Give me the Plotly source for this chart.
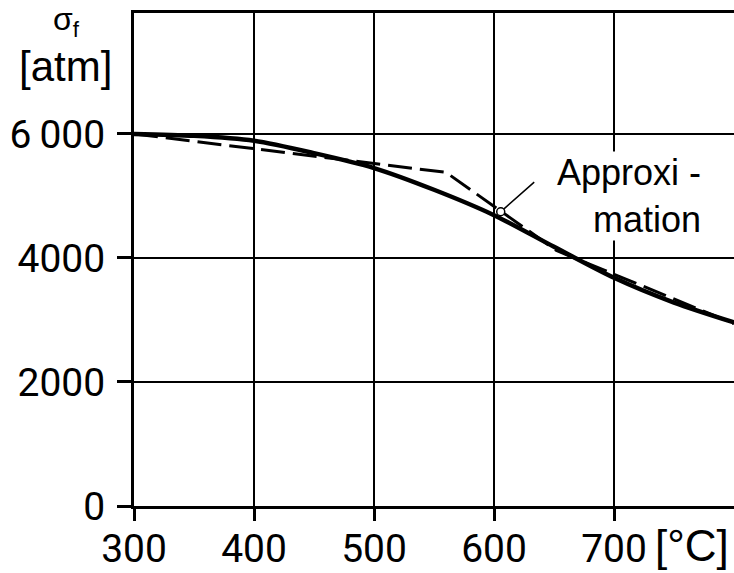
import plotly.graph_objects as go

# Temperature [°C] and fracture stress sigma_f [atm]
temp_exact = [300, 350, 400, 450, 500, 550, 600, 650, 700, 750, 800]
sigma_exact = [6000, 5970, 5890, 5690, 5450, 5100, 4690, 4180, 3680, 3280, 2960]

temp_approx = [300, 560, 652, 800]
sigma_approx = [6000, 5380, 4120, 2940]

marker_temp = [605.6]
marker_sigma = [4745]

x_ticks = [300, 400, 500, 600, 700]
x_ticktext = ["300", "400", "500", "600", "700"]
y_ticks = [0, 2000, 4000, 6000]
y_ticktext = ["0", "2000", "4000", "6\u2009000"]

TICKF = "Roboto, Liberation Sans, sans-serif"
REG = "Liberation Sans, Arial, sans-serif"

fig = go.Figure()
fig.add_trace(go.Scatter(x=temp_approx, y=sigma_approx, mode="lines",
                         line=dict(color="black", width=3, dash="24px,8px"),
                         showlegend=False, hoverinfo="skip"))
fig.add_trace(go.Scatter(x=temp_exact, y=sigma_exact, mode="lines",
                         line=dict(color="black", width=4.5, shape="spline", smoothing=0.8),
                         showlegend=False, hoverinfo="skip"))
fig.add_trace(go.Scatter(x=marker_temp, y=marker_sigma, mode="markers",
                         marker=dict(symbol="circle", size=8, color="white",
                                     line=dict(color="black", width=1.5)),
                         showlegend=False, hoverinfo="skip"))

L, T, W, H = 134, 13, 734, 573
B = H - 506
pw = W - L
ph = H - T - B

def px(xp):
    return (xp - L) / pw

def py(yp):
    return (H - B - yp) / ph

fig.update_layout(
    width=W, height=H,
    margin=dict(l=L, r=0, t=T, b=B, pad=0, autoexpand=False),
    paper_bgcolor="white", plot_bgcolor="white",
    xaxis=dict(range=[300, 800], tickmode="array", tickvals=x_ticks, ticktext=x_ticktext,
               showgrid=True, gridcolor="black", gridwidth=1.5,
               showline=True, linecolor="black", linewidth=3, mirror=True,
               ticks="outside", ticklen=12, tickwidth=2.5, tickcolor="black",
               ticklabelstandoff=-6, automargin=False,
               tickfont=dict(family=TICKF, size=39, color="black"),
               zeroline=False, fixedrange=True),
    yaxis=dict(range=[0, 7950], tickmode="array", tickvals=y_ticks, ticktext=y_ticktext,
               showgrid=True, gridcolor="black", gridwidth=1.5,
               showline=True, linecolor="black", linewidth=3,
               ticks="outside", ticklen=14, tickwidth=2.5, tickcolor="black",
               ticklabelstandoff=4, automargin=False,
               tickfont=dict(family=TICKF, size=39, color="black"),
               zeroline=False, fixedrange=True),
    annotations=[
        dict(xref="paper", yref="paper", x=px(66), y=py(21), text="σ<sub>f</sub>",
             showarrow=False, xanchor="center", yanchor="middle",
             font=dict(family=REG, size=32, color="black")),
        dict(xref="paper", yref="paper", x=px(65), y=py(67), text="[atm]",
             showarrow=False, xanchor="center", yanchor="middle",
             font=dict(family=REG, size=42, color="black")),
        dict(xref="paper", yref="paper", x=px(692), y=py(545), text="[°C]",
             showarrow=False, xanchor="center", yanchor="middle",
             font=dict(family=REG, size=44, color="black")),
        dict(xref="paper", yref="paper", x=px(702), y=py(196), text="Approxi -<br>mation",
             showarrow=False, xanchor="right", yanchor="middle", align="right",
             bgcolor="white", borderpad=0,
             font=dict(family=REG, size=36, color="black")),
        dict(x=marker_temp[0], y=marker_sigma[0], xref="x", yref="y", text="",
             showarrow=True, arrowhead=0, arrowwidth=1.5, arrowcolor="black",
             ax=35, ay=-31, standoff=4),
    ],
)

fig.write_html("out.html", config={"displayModeBar": False},
               post_script="document.body.style.margin='0';document.body.style.overflow='hidden';")
